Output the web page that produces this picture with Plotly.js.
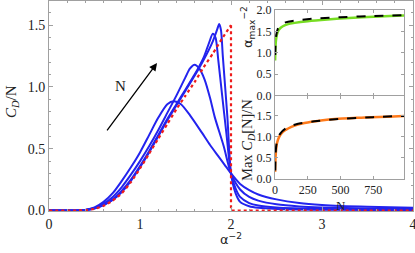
<!DOCTYPE html>
<html>
<head>
<meta charset="utf-8">
<script src="https://cdn.plot.ly/plotly-3.0.1.min.js"></script>
<style>html,body{margin:0;padding:0;background:#fff}#chart{width:415px;height:253px}</style>
</head>
<body>
<div id="chart"></div>
<script>
// ---- main panel data (x = alpha^-2, y = C_D/N) ----
const curve1X = [0, 0.3, 0.4, 0.5, 0.6, 0.7, 0.8, 0.9, 1.0, 1.1, 1.2, 1.3, 1.37, 1.45, 1.55, 1.68, 1.77, 1.86, 1.93, 2.0, 2.1, 2.2, 2.3, 2.5, 2.75, 3.0, 3.5, 4.0];
const curve1Y = [0, 0, 0.005, 0.025, 0.07, 0.14, 0.24, 0.35, 0.47, 0.61, 0.75, 0.86, 0.885, 0.86, 0.77, 0.63, 0.53, 0.44, 0.37, 0.30, 0.215, 0.165, 0.13, 0.09, 0.06, 0.045, 0.03, 0.022];

const curve2X = [0, 0.3, 0.4, 0.5, 0.6, 0.7, 0.8, 0.9, 1.0, 1.1, 1.2, 1.3, 1.4, 1.5, 1.55, 1.6, 1.65, 1.71, 1.77, 1.82, 1.92, 2.0, 2.1, 2.2, 2.3, 2.5, 2.75, 3.0, 3.5, 4.0];
const curve2Y = [0, 0, 0.004, 0.02, 0.055, 0.11, 0.19, 0.29, 0.40, 0.52, 0.65, 0.79, 0.93, 1.08, 1.15, 1.18, 1.15, 1.06, 0.91, 0.76, 0.52, 0.30, 0.17, 0.11, 0.08, 0.05, 0.033, 0.025, 0.017, 0.013];

const curve3X = [0, 0.3, 0.4, 0.5, 0.6, 0.7, 0.8, 0.9, 1.0, 1.1, 1.2, 1.3, 1.4, 1.5, 1.6, 1.7, 1.76, 1.8, 1.83, 1.86, 1.9, 1.95, 2.0, 2.05, 2.1, 2.2, 2.3, 2.5, 3.0, 3.5, 4.0];
const curve3Y = [0, 0, 0.004, 0.017, 0.045, 0.09, 0.16, 0.25, 0.36, 0.48, 0.61, 0.74, 0.86, 0.98, 1.10, 1.24, 1.36, 1.43, 1.40, 1.22, 0.95, 0.62, 0.30, 0.18, 0.11, 0.06, 0.04, 0.025, 0.013, 0.01, 0.008];

const curve4X = [0, 0.3, 0.4, 0.5, 0.6, 0.7, 0.8, 0.9, 1.0, 1.1, 1.2, 1.3, 1.4, 1.5, 1.6, 1.7, 1.8, 1.85, 1.87, 1.89, 1.91, 1.96, 2.0, 2.05, 2.1, 2.2, 2.3, 2.5, 3.0, 3.5, 4.0];
const curve4Y = [0, 0, 0.004, 0.016, 0.043, 0.085, 0.15, 0.24, 0.35, 0.47, 0.60, 0.73, 0.85, 0.97, 1.09, 1.22, 1.37, 1.47, 1.51, 1.46, 1.25, 0.76, 0.30, 0.14, 0.07, 0.035, 0.022, 0.013, 0.007, 0.005, 0.004];

const limitX = [0, 0.3, 0.4, 0.5, 0.6, 0.7, 0.8, 0.9, 1.0, 1.1, 1.2, 1.3, 1.4, 1.5, 1.6, 1.7, 1.8, 1.9, 2.0];
const limitY = [0, 0, 0.003, 0.013, 0.038, 0.08, 0.14, 0.23, 0.34, 0.46, 0.58, 0.70, 0.82, 0.93, 1.04, 1.16, 1.27, 1.39, 1.5];
const limitStepX = [2.0, 2.0, 4.0];
const limitStepY = [1.5, 0, 0];

// ---- inset data (x = N) ----
const peakPosN = [1, 5, 10, 20, 35, 60, 100, 150, 250, 400, 600, 800, 985];
const peakPosY = [0.82, 1.2, 1.35, 1.48, 1.56, 1.62, 1.67, 1.70, 1.74, 1.78, 1.82, 1.85, 1.87];
const peakPosFitN = [2, 5, 10, 20, 40, 80, 150, 300, 500, 750, 985];
const peakPosFitY = [0.95, 1.25, 1.42, 1.55, 1.64, 1.71, 1.75, 1.80, 1.83, 1.86, 1.88];

const peakValN = [1, 4, 8, 15, 30, 60, 100, 150, 225, 350, 480, 600, 736, 850, 985];
const peakValY = [0.17, 0.5, 0.68, 0.85, 0.99, 1.12, 1.20, 1.27, 1.33, 1.39, 1.43, 1.45, 1.47, 1.48, 1.50];
const peakValFitN = [2, 5, 10, 20, 40, 80, 150, 300, 500, 750, 985];
const peakValFitY = [0.2, 0.6, 0.8, 0.95, 1.08, 1.2, 1.29, 1.37, 1.43, 1.47, 1.50];

const mainXTicks = [0, 1, 2, 3, 4];
const mainYTicks = [0.0, 0.5, 1.0, 1.5];
const insetNTicks = [0, 250, 500, 750];
const insetYTicks = [0.0, 0.5, 1.0, 1.5, 2.0];

const blue = '#2323ee';
const serif = '"Liberation Serif", "Times New Roman", serif';
const axisGray = '#a0a0a0';

function blueTrace(x, y) {
  return {x: x, y: y, type: 'scatter', mode: 'lines', xaxis: 'x', yaxis: 'y',
    line: {color: blue, width: 2, shape: 'spline', smoothing: 0.7}, hoverinfo: 'skip'};
}

const traces = [
  blueTrace(curve1X, curve1Y),
  blueTrace(curve2X, curve2Y),
  blueTrace(curve3X, curve3Y),
  blueTrace(curve4X, curve4Y),
  {x: limitX, y: limitY, type: 'scatter', mode: 'lines', xaxis: 'x', yaxis: 'y',
   line: {color: '#ee1c1c', width: 2.2, dash: 'dot', shape: 'spline', smoothing: 0.5}},
  {x: limitStepX, y: limitStepY, type: 'scatter', mode: 'lines', xaxis: 'x', yaxis: 'y',
   line: {color: '#ee1c1c', width: 2.2, dash: 'dot'}},
  {x: peakPosN, y: peakPosY, type: 'scatter', mode: 'lines', xaxis: 'x2', yaxis: 'y2',
   line: {color: '#77dd22', width: 2.5, shape: 'spline'}},
  {x: peakPosFitN, y: peakPosFitY, type: 'scatter', mode: 'lines', xaxis: 'x2', yaxis: 'y2',
   line: {color: '#000', width: 2, dash: 'dash', shape: 'spline'}},
  {x: peakValN, y: peakValY, type: 'scatter', mode: 'lines', xaxis: 'x3', yaxis: 'y3',
   line: {color: '#ff7a1a', width: 2.5, shape: 'spline'}},
  {x: peakValFitN, y: peakValFitY, type: 'scatter', mode: 'lines', xaxis: 'x3', yaxis: 'y3',
   line: {color: '#000', width: 2, dash: 'dash', shape: 'spline'}}
];

const W = 415, H = 253;
const px = v => v / W;
const py = v => (H - v) / H;

const tickFont = {family: serif, size: 14, color: '#222'};
const insetTickFont = {family: serif, size: 12, color: '#222'};

const layout = {
  width: W, height: H,
  margin: {l: 0, r: 0, t: 0, b: 0},
  paper_bgcolor: '#fff', plot_bgcolor: '#fff',
  showlegend: false,
  xaxis: {domain: [px(49), px(413)], range: [0, 4], anchor: 'y',
    tickmode: 'array', tickvals: mainXTicks, ticktext: mainXTicks.map(String),
    ticks: 'inside', ticklen: 4, tickcolor: axisGray, ticklabeloverflow: 'allow',
    minor: {dtick: 0.2, ticks: 'inside', ticklen: 2, tickcolor: axisGray},
    showline: true, linecolor: axisGray, linewidth: 1, mirror: 'ticks',
    showgrid: false, zeroline: false, tickfont: tickFont},
  yaxis: {domain: [py(211), py(0.5)], range: [-0.004, 1.7], anchor: 'x',
    tickmode: 'array', tickvals: mainYTicks, ticktext: mainYTicks.map(v => v.toFixed(1)),
    ticks: 'inside', ticklen: 4, tickcolor: axisGray,
    minor: {dtick: 0.1, ticks: 'inside', ticklen: 2, tickcolor: axisGray},
    showline: true, linecolor: axisGray, linewidth: 1, mirror: 'ticks',
    showgrid: false, zeroline: false, tickfont: tickFont},
  xaxis2: {domain: [px(275), px(404)], range: [0, 985], anchor: 'y2',
    tickmode: 'array', tickvals: insetNTicks, showticklabels: false,
    ticks: 'inside', ticklen: 3, tickcolor: axisGray,
    showline: true, linecolor: axisGray, mirror: 'ticks', showgrid: false, zeroline: false},
  yaxis2: {domain: [py(95.7), py(10)], range: [0, 2.0], anchor: 'x2',
    tickmode: 'array', tickvals: insetYTicks, ticktext: insetYTicks.map(v => v.toFixed(1)),
    ticks: 'inside', ticklen: 3, tickcolor: axisGray,
    showline: true, linecolor: axisGray, mirror: 'ticks', showgrid: false, zeroline: false,
    tickfont: insetTickFont},
  xaxis3: {domain: [px(275), px(404)], range: [0, 985], anchor: 'y3',
    tickmode: 'array', tickvals: insetNTicks, ticktext: insetNTicks.map(String),
    ticks: 'inside', ticklen: 3, tickcolor: axisGray,
    showline: true, linecolor: axisGray, mirror: 'ticks', showgrid: false, zeroline: false,
    tickfont: insetTickFont},
  yaxis3: {domain: [py(179), py(95.7)], range: [0, 1.98], anchor: 'x3',
    tickmode: 'array', tickvals: insetYTicks.slice(0, 4), ticktext: insetYTicks.slice(0, 4).map(v => v.toFixed(1)),
    ticks: 'inside', ticklen: 3, tickcolor: axisGray,
    showline: true, linecolor: axisGray, mirror: 'ticks', showgrid: false, zeroline: false,
    tickfont: insetTickFont},
  annotations: [
    {xref: 'paper', yref: 'paper', x: px(12), y: py(102), text: '<i>C</i><sub><i>D</i></sub>/N',
     textangle: -90, showarrow: false, xanchor: 'center', yanchor: 'middle',
     font: {family: serif, size: 15, color: '#222'}},
    {xref: 'paper', yref: 'paper', x: px(231), y: py(239), text: 'α<sup>−2</sup>',
     showarrow: false, xanchor: 'center', yanchor: 'middle',
     font: {family: '"DejaVu Sans", sans-serif', size: 13, color: '#222'}},
    {xref: 'paper', yref: 'paper', x: px(248), y: py(27), text: 'α<sub>max</sub><sup>−2</sup>',
     textangle: -90, showarrow: false, xanchor: 'center', yanchor: 'middle',
     font: {family: '"DejaVu Sans", sans-serif', size: 13, color: '#222'}},
    {xref: 'paper', yref: 'paper', x: px(248), y: py(140), text: 'Max <i>C</i><sub><i>D</i></sub>[N]/N',
     textangle: -90, showarrow: false, xanchor: 'center', yanchor: 'middle',
     font: {family: serif, size: 14.5, color: '#222'}},
    {xref: 'paper', yref: 'paper', x: px(341), y: py(196), text: 'N',
     showarrow: false, xanchor: 'center', yanchor: 'top',
     font: {family: serif, size: 13, color: '#222'}},
    {xref: 'x', yref: 'y', axref: 'x', ayref: 'y', x: 1.187, y: 1.194, ax: 0.626, ay: 0.637,
     text: '', showarrow: true, arrowhead: 2, arrowsize: 1.2, arrowwidth: 1.3, arrowcolor: '#000'},
    {xref: 'x', yref: 'y', x: 0.79, y: 1.01, text: 'N', showarrow: false,
     font: {family: serif, size: 15, color: '#222'}}
  ]
};

Plotly.newPlot('chart', traces, layout, {staticPlot: true, displayModeBar: false});
</script>
</body>
</html>
